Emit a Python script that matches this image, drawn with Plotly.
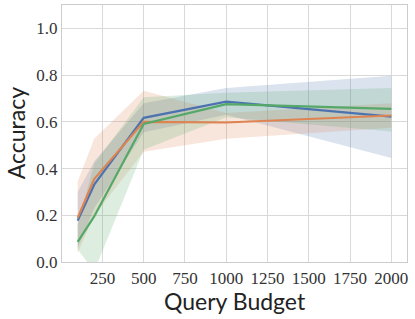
import plotly.graph_objects as go

budgets = [100, 200, 500, 1000, 2000]

blue_mean = [0.177, 0.331, 0.617, 0.686, 0.622]
blue_low = [0.06, 0.23, 0.555, 0.63, 0.445]
blue_high = [0.30, 0.43, 0.68, 0.745, 0.797]

orange_mean = [0.189, 0.355, 0.600, 0.597, 0.627]
orange_low = [0.04, 0.20, 0.472, 0.527, 0.575]
orange_high = [0.345, 0.527, 0.733, 0.638, 0.68]

green_mean = [0.086, 0.195, 0.591, 0.676, 0.655]
green_low = [0.053, -0.04, 0.48, 0.62, 0.559]
green_high = [0.16, 0.42, 0.705, 0.724, 0.745]

x_ticks = [250, 500, 750, 1000, 1250, 1500, 1750, 2000]
y_ticks = [0.0, 0.2, 0.4, 0.6, 0.8, 1.0]

series = [
    ("blue", blue_mean, blue_low, blue_high, "#4C72B0", "rgba(76,114,176,0.2)"),
    ("orange", orange_mean, orange_low, orange_high, "#DD8452", "rgba(221,132,82,0.2)"),
    ("green", green_mean, green_low, green_high, "#55A868", "rgba(85,168,104,0.2)"),
]

fig = go.Figure()
for name, m, lo, hi, col, fcol in series:
    fig.add_trace(go.Scatter(x=budgets, y=lo, mode="lines", line=dict(width=0),
                             showlegend=False, hoverinfo="skip"))
    fig.add_trace(go.Scatter(x=budgets, y=hi, mode="lines", line=dict(width=0),
                             fill="tonexty", fillcolor=fcol, showlegend=False,
                             hoverinfo="skip"))
for name, m, lo, hi, col, fcol in series:
    fig.add_trace(go.Scatter(x=budgets, y=m, mode="lines", line=dict(color=col, width=2.2),
                             showlegend=False, name=name))

fig.update_layout(
    width=415, height=319,
    margin=dict(l=62, r=8, t=5, b=57, autoexpand=False),
    paper_bgcolor="white", plot_bgcolor="white",
    showlegend=False,
    annotations=[
        dict(text="Query Budget", xref="paper", yref="paper", x=0.5, y=-0.09,
             xanchor="center", yanchor="top", showarrow=False,
             font=dict(family="Lato", size=23, color="#222222")),
        dict(text="Accuracy", xref="paper", yref="paper", x=-0.134, y=0.5,
             xanchor="center", yanchor="middle", showarrow=False, textangle=-90,
             font=dict(family="Lato", size=23, color="#222222")),
    ],
)
fig.update_xaxes(
    range=[5, 2095], tickvals=x_ticks, ticktext=[str(v) for v in x_ticks],
    showgrid=True, gridcolor="#d9d9d9", gridwidth=1,
    showline=True, linecolor="#cccccc", linewidth=1.2, mirror=True,
    zeroline=False, ticks="",
    tickfont=dict(family="Liberation Serif", size=17, color="#333333"),
)
fig.update_yaxes(
    range=[0, 1.1], tickvals=y_ticks, ticktext=["%.1f" % v for v in y_ticks],
    showgrid=True, gridcolor="#d9d9d9", gridwidth=1,
    showline=True, linecolor="#cccccc", linewidth=1.2, mirror=True,
    zeroline=False, ticks="",
    tickfont=dict(family="Liberation Serif", size=17, color="#333333"),
)

fig.write_html("out.html", config={"displayModeBar": False},
               post_script="document.body.style.margin='0';")
